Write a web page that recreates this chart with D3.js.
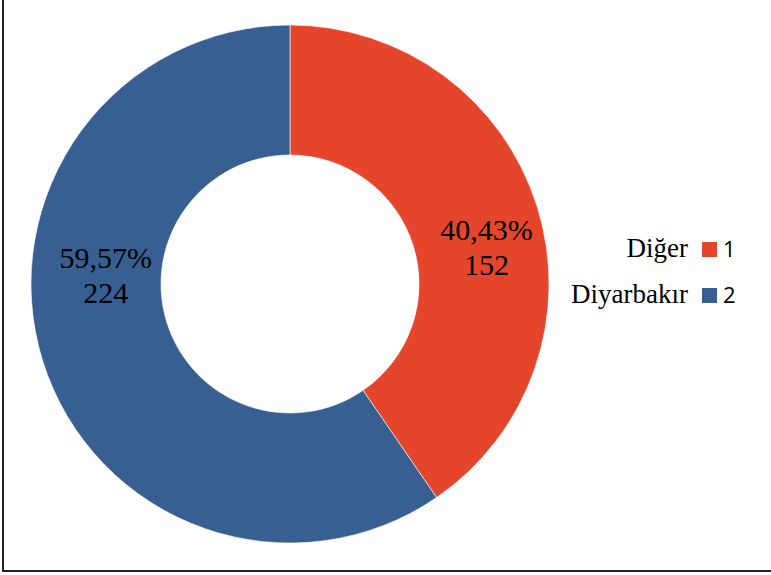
<!DOCTYPE html>
<html lang="tr">
<head>
    <meta charset="UTF-8">
    <title>Diğer / Diyarbakır</title>
    <script src="https://d3js.org/d3.v7.min.js"></script>
    <style>
        body { margin: 0; background: #fff; }
        .lbl { font-family: "Liberation Serif", serif; font-size: 27px; fill: #000; }
        .val { font-family: "Liberation Serif", serif; font-size: 30px; fill: #000; }
        .num { font-family: "Open Sans", "Liberation Sans", sans-serif; font-size: 22px; fill: #000; }
    </style>
</head>
<body>
<svg width="771" height="575"></svg>

<script>
    // data
    const categories = ["Diğer", "Diyarbakır"];
    const counts = [152, 224];
    const percents = ["40,43%", "59,57%"];
    const legendIds = ["1", "2"];
    const colors = ["#e5452b", "#375f91"];

    const svg = d3.select("svg");
    const cx = 290, cy = 284;
    const outerR = 259, innerR = 129;

    // frame (only left + bottom visible in the crop)
    svg.append("line").attr("x1", 3).attr("x2", 3).attr("y1", 0).attr("y2", 572)
        .attr("stroke", "#222").attr("stroke-width", 2);
    svg.append("line").attr("x1", 3).attr("x2", 771).attr("y1", 571).attr("y2", 571)
        .attr("stroke", "#222").attr("stroke-width", 2);

    const pie = d3.pie().sort(null);
    const arc = d3.arc().innerRadius(innerR).outerRadius(outerR);
    const arcs = pie(counts);

    const g = svg.append("g").attr("transform", `translate(${cx},${cy})`);

    g.selectAll("path")
        .data(arcs)
        .enter()
        .append("path")
        .attr("d", arc)
        .attr("fill", (d, i) => colors[i])
        .attr("stroke", "#fff")
        .attr("stroke-width", 0.6);

    // labels: x from centroid (scaled), baseline of first line set per slice
    const labelArc = d3.arc().innerRadius(194).outerRadius(194);
    const labelScale = [1.06, 0.995];
    const labelY = [-44, -16];
    arcs.forEach(function (d, i) {
        let c = labelArc.centroid(d);
        let x = c[0] * labelScale[i];
        let t = g.append("text").attr("class", "val")
            .attr("text-anchor", "middle")
            .attr("x", x)
            .attr("y", labelY[i]);
        t.append("tspan").attr("x", x).text(percents[i]);
        t.append("tspan").attr("x", x).attr("dy", 35).text(counts[i]);
    });

    // legend
    const legend = svg.append("g").attr("transform", "translate(688,257)");
    categories.forEach(function (name, i) {
        let row = legend.append("g").attr("transform", `translate(0,${i * 46})`);
        row.append("text").attr("class", "lbl").attr("text-anchor", "end").text(name);
        row.append("rect").attr("x", 14).attr("y", -15).attr("width", 15).attr("height", 15)
            .attr("fill", colors[i]);
        row.append("text").attr("class", "num").attr("x", 35).attr("y", 0).text(legendIds[i]);
    });
</script>
</body>
</html>
